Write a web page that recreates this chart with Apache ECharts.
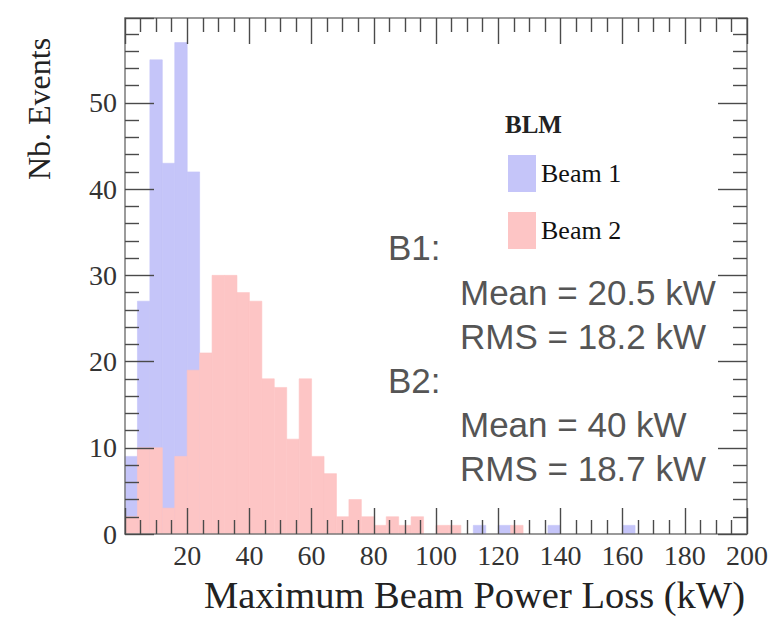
<!DOCTYPE html>
<html>
<head>
<meta charset="utf-8">
<script src="https://cdn.jsdelivr.net/npm/echarts@6/dist/echarts.min.js"></script>
<style>
html,body{margin:0;padding:0;background:#ffffff;}
#chart{width:773px;height:621px;}
</style>
</head>
<body>
<div id="chart"></div>
<script>
// ---- data ----
const binWidth = 4; // kW per histogram bin, bins start at 0 kW
const beam1Counts = [9,27,55,43,57,42,0,0,0,0, 0,0,0,0,0,0,0,0,0,0, 0,0,0,0,0,0,0,0,1,0, 1,0,0,0,1,0,0,0,0,0, 1,0,0,0,0,0,0,0,0,0];
const beam2Counts = [2,10,10,3,9,19,21,30,30,28, 27,18,17,11,18,9,7,2,4,2, 1,2,1,2,0,1,1,0,0,0, 0,1,0,0,0,0,0,0,0,0, 0,0,0,0,0,0,0,0,0,0];
const legendTitle = 'BLM';
const seriesNames = ['Beam 1', 'Beam 2'];
const statLines = ['B1:', 'Mean = 20.5 kW', 'RMS = 18.2 kW', 'B2:', 'Mean = 40 kW', 'RMS = 18.7 kW'];
const xTitle = 'Maximum Beam Power Loss (kW)';
const yTitle = 'Nb. Events';

const blue = '#c5c5f9';
const pink = '#fdc5c5';
const serif = '"Liberation Serif", "DejaVu Serif", serif';
const sans = '"Liberation Sans", Arial, sans-serif';

function histSeries(name, counts, color, z) {
  const data = counts.map((c, i) => [i * binWidth, (i + 1) * binWidth, c]);
  return {
    type: 'custom',
    name: name,
    z: z,
    xAxisIndex: 0,
    yAxisIndex: 0,
    data: data,
    encode: { x: [0, 1], y: 2 },
    itemStyle: { color: color },
    renderItem: function (params, api) {
      const v = api.value(2);
      if (!v) return null;
      const p0 = api.coord([api.value(0), v]);
      const p1 = api.coord([api.value(1), 0]);
      return {
        type: 'rect',
        shape: { x: p0[0], y: p0[1], width: p1[0] - p0[0], height: p1[1] - p0[1] },
        style: { fill: color, stroke: color, lineWidth: 0.6 }
      };
    }
  };
}

const frameLine = { show: true, onZero: false, lineStyle: { color: '#7a7a7a', width: 1.5 } };
const tickStyle = { color: '#4a4a4a', width: 1.4 };

function xAx(pos, labels) {
  return {
    type: 'value', min: 0, max: 200, interval: 20, position: pos, z: 10,
    axisLine: frameLine,
    axisTick: { show: true, inside: true, length: 26, lineStyle: tickStyle },
    minorTick: { show: true, splitNumber: 4, length: 14, lineStyle: tickStyle },
    splitLine: { show: false },
    axisLabel: labels ? { show: true, showMinLabel: false, fontFamily: serif, fontSize: 28, color: '#333', margin: 7 } : { show: false }
  };
}
function yAx(pos, labels) {
  return {
    type: 'value', min: 0, max: 59.85, interval: 10, position: pos, z: 10,
    axisLine: frameLine,
    axisTick: { show: true, inside: true, length: 29, lineStyle: tickStyle },
    minorTick: { show: true, splitNumber: 5, length: 14, lineStyle: tickStyle },
    splitLine: { show: false },
    axisLabel: labels ? { show: true, showMaxLabel: false, fontFamily: serif, fontSize: 28, color: '#333', margin: 8 } : { show: false }
  };
}

const statY = [247, 292, 336, 380, 424, 468];
const statX = [388, 460, 460, 388, 460, 460];

const graphics = statLines.map((t, i) => ({
  type: 'text', x: statX[i], y: statY[i], z: 20,
  style: { text: t, font: '35px ' + sans, fill: '#555', textAlign: 'left', textVerticalAlign: 'middle' }
}));
graphics.push({
  type: 'text', x: 745, y: 595, z: 20,
  style: { text: xTitle, font: '38.5px ' + serif, fill: '#222', textAlign: 'right', textVerticalAlign: 'middle' }
});
graphics.push({
  type: 'text', x: 39, y: 109, rotation: Math.PI / 2, z: 20,
  style: { text: yTitle, font: '32px ' + serif, fill: '#222', textAlign: 'center', textVerticalAlign: 'middle' }
});

const chart = echarts.init(document.getElementById('chart'), null, { renderer: 'svg' });
chart.setOption({
  animation: false,
  backgroundColor: '#ffffff',
  grid: { left: 125, right: 26, top: 18, bottom: 87, containLabel: false },
  xAxis: [xAx('bottom', true), xAx('top', false)],
  yAxis: [yAx('left', true), yAx('right', false)],
  title: {
    text: legendTitle, left: 505, top: 112, padding: 0,
    textStyle: { fontFamily: serif, fontWeight: 'bold', fontSize: 25, color: '#222' }
  },
  legend: {
    data: [{ name: seriesNames[0], icon: 'rect' }, { name: seriesNames[1], icon: 'rect' }],
    orient: 'vertical', left: 508, top: 155, padding: 0,
    itemWidth: 28, itemHeight: 37, itemGap: 20, selectedMode: false,
    textStyle: { fontFamily: serif, fontSize: 26, color: '#111' }
  },
  graphic: graphics,
  series: [
    histSeries(seriesNames[0], beam1Counts, blue, 2),
    histSeries(seriesNames[1], beam2Counts, pink, 3)
  ]
});
</script>
</body>
</html>
